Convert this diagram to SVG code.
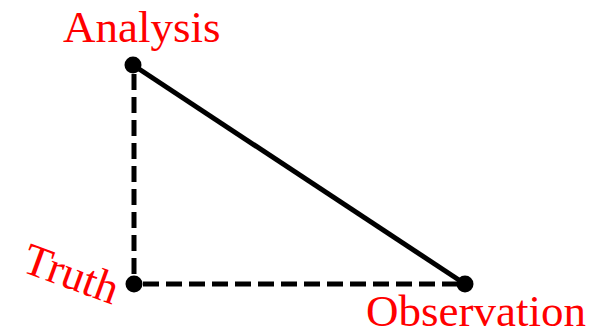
<svg xmlns="http://www.w3.org/2000/svg" width="603" height="333" viewBox="0 0 603 333">
<style>
.lbl{font-size:45px;fill:#ff0000}
.dash{stroke:#000;stroke-width:5;stroke-dasharray:16 7;fill:none}
.solid{stroke:#000;stroke-width:5;fill:none}
.pt{fill:#000}
</style>
<rect width="603" height="333" fill="#fff"/>
<g id="connectors">
<line class="dash" x1="134" y1="74" x2="134" y2="283"/>
<line class="dash" x1="143" y1="284" x2="465" y2="284"/>
<line class="solid" x1="133" y1="65" x2="465" y2="284"/>
</g>
<g id="analysis">
<circle class="pt" cx="133" cy="65" r="8.5"/>
<text class="lbl" font-family="'Liberation Serif', 'DejaVu Serif', serif" x="63" y="42">Analysis</text>
</g>
<g id="truth">
<circle class="pt" cx="134" cy="284" r="8.5"/>
<text class="lbl" font-family="'Liberation Serif', 'DejaVu Serif', serif" x="0" y="0" transform="translate(20,271) rotate(20)">Truth</text>
</g>
<g id="observation">
<circle class="pt" cx="465" cy="284" r="8.5"/>
<text class="lbl" font-family="'Liberation Serif', 'DejaVu Serif', serif" x="366" y="326">Observation</text>
</g>
</svg>
